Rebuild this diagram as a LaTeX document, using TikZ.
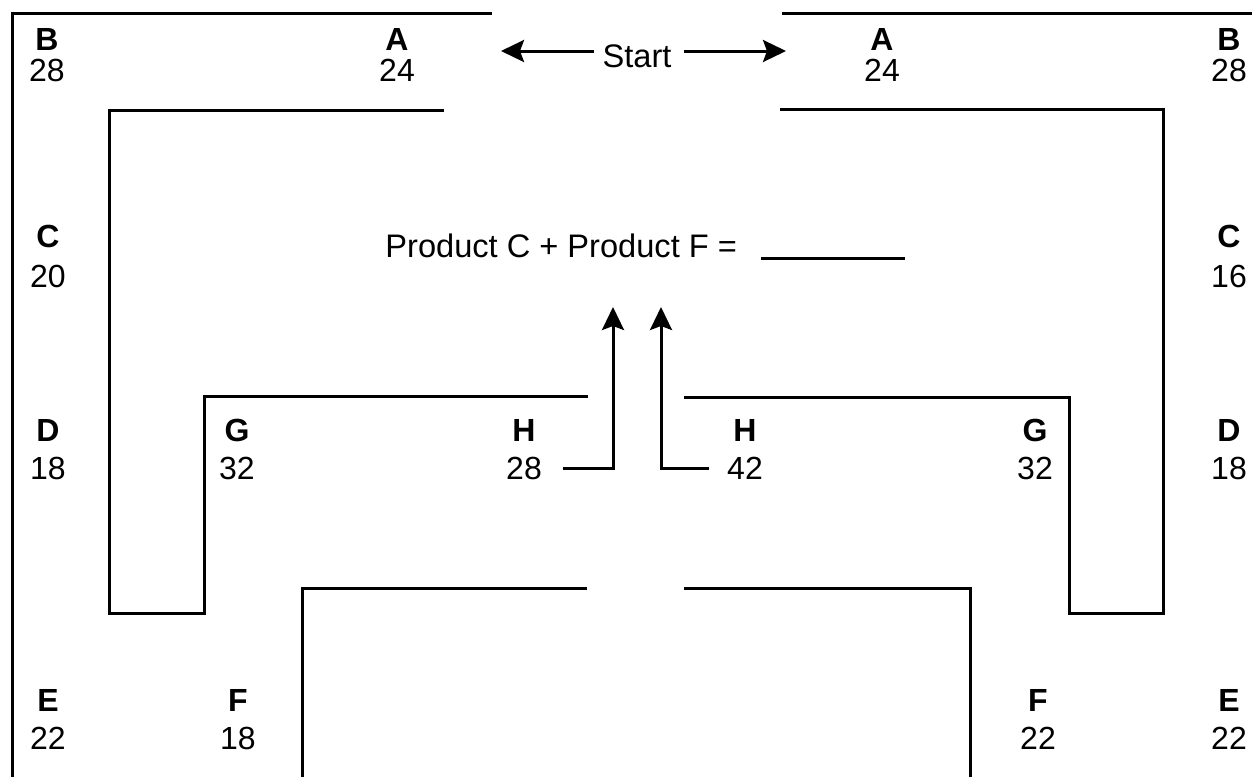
\documentclass[tikz,border=0pt]{standalone}
\usepackage{fontspec}
\setmainfont{Liberation Sans}
\usetikzlibrary{arrows.meta}
\tikzstyle{wall} = [line width=1.5pt]
\tikzstyle{arr} = [line width=1.5pt, -{Stealth[length=11.5pt, width=11pt, inset=2pt]}]
\tikzstyle{letter} = [inner sep=0pt, text height=11.4pt, text depth=0pt, font=\fontsize{16}{19}\selectfont\bfseries]
\tikzstyle{value} = [inner sep=0pt, text height=11.4pt, text depth=0pt, font=\fontsize{16}{19}\selectfont]
\tikzstyle{word} = [inner sep=0pt, font=\fontsize{16.3}{19}\selectfont]

\begin{document}
\begin{tikzpicture}[x=0.5pt, y=-0.5pt]
                \useasboundingbox (0,0) rectangle (1252,777);

                % paths of the maze
                \draw[wall] (492,13) -- (12,13) -- (12,777);
                \draw[wall] (782,13) -- (1252,13);
                \draw[wall] (444,110) -- (109,110) -- (109,613) -- (204,613) -- (204,396) -- (588,396);
                \draw[wall] (780,109) -- (1163,109) -- (1163,613) -- (1069,613) -- (1069,397) -- (684,397);
                \draw[wall] (587,588) -- (302,588) -- (302,777);
                \draw[wall] (684,588) -- (970,588) -- (970,777);

                % letters and their numbers
                \foreach \nm/\x/\ly/\vy/\l/\v in {bL/47/39/70.5/B/28, aL/397/39/70.5/A/24, aR/882/39/70.5/A/24, bR/1229/39/70.5/B/28,
                    cL/48/236.5/276/C/20, cR/1229/236.5/276/C/16,
                    dL/48/430/468.5/D/18, gL/237/430/468.5/G/32, hL/524/430/468.5/H/28, hR/745/430/468.5/H/42, gR/1035/430/468.5/G/32, dR/1229/430/468.5/D/18,
                    eL/48/700/738.5/E/22, fL/238/700/738.5/F/18, fR/1038/700/738.5/F/22, eR/1229/700/738.5/E/22} {
                    \node[letter] (\nm) at (\x,\ly) {\l};
                    \node[value] (\nm-n) at (\x,\vy) {\v};
                }

                % start
                \node[word, text height=16pt, text depth=0pt] (start) at (637,51) {Start};
                \coordinate (sL) at (501,51);
                \coordinate (sR) at (786,51);
                \draw[arr] ([xshift=-4pt]start.west) -- (sL);
                \draw[arr] ([xshift=6pt]start.east) -- (sR);

                % question
                \node[word, anchor=base west] (sum) at (385,257) {Product C + Product F =};
                \coordinate (blankL) at (761,258);
                \coordinate (blankR) at (905,258);
                \draw[wall] (blankL) -- (blankR);

                \coordinate (tipH1) at (613,307);
                \coordinate (tipH2) at (661,307);
                \draw[arr] ([xshift=10.5pt]hL-n.east) -| (tipH1);
                \draw[arr] ([xshift=-9pt]hR-n.west) -| (tipH2);
            \end{tikzpicture}
\end{document}
